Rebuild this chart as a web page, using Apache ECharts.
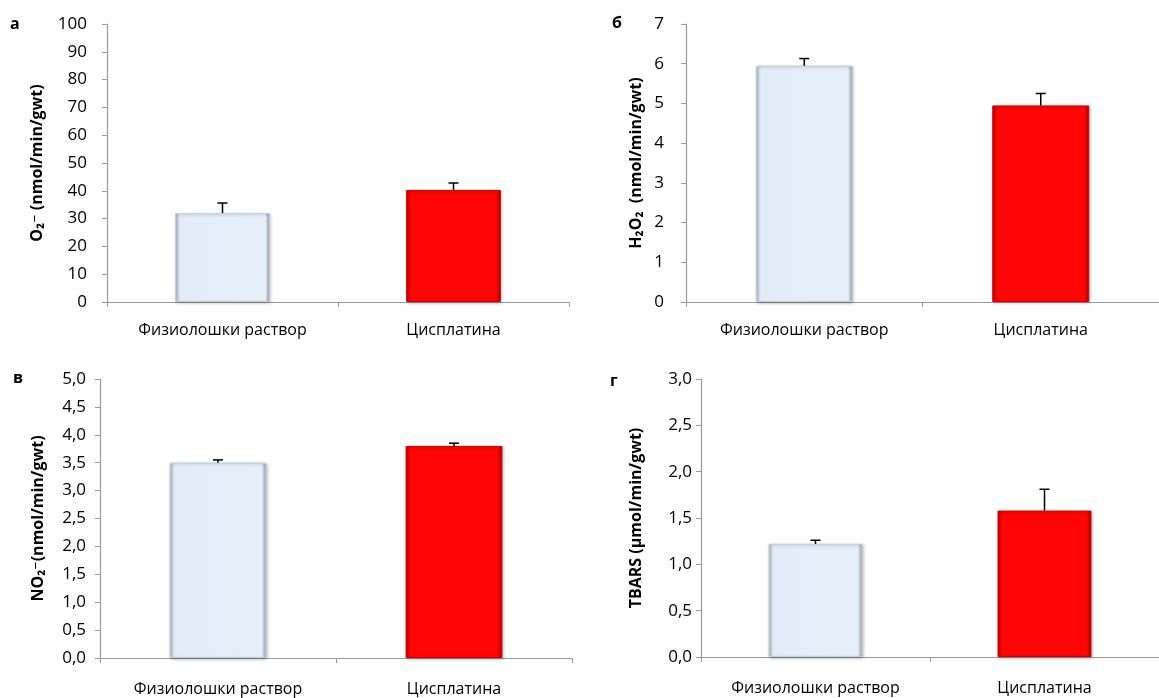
<!DOCTYPE html>
<html>
<head>
<meta charset="utf-8">
<script src="https://cdn.jsdelivr.net/npm/echarts@6/dist/echarts.min.js"></script>
<style>
html,body{margin:0;padding:0;background:#fff;}
#chart{width:1159px;height:698px;}
</style>
</head>
<body>
<div id="chart"></div>
<script>
// ---- data ----
const categories = ['Физиолошки раствор', 'Цисплатина'];
const o2Values = [32, 40.3];
const o2Err = [3.6, 2.5];
const h2o2Values = [5.95, 4.95];
const h2o2Err = [0.18, 0.3];
const no2Values = [3.5, 3.8];
const no2Err = [0.05, 0.05];
const tbarsValues = [1.22, 1.58];
const tbarsErr = [0.04, 0.23];
const panelLetters = ['а', 'б', 'в', 'г'];
const yTitles = ['O₂⁻ (nmol/min/gwt)', 'H₂O₂  (nmol/min/gwt)', 'NO₂⁻(nmol/min/gwt)', 'TBARS (µmol/min/gwt)'];
const yMax = [100, 7, 5, 3];
const yInterval = [10, 1, 0.5, 0.5];
const yDecimals = [0, 0, 1, 1];

const FONT = "'Open Sans', 'DejaVu Sans', sans-serif";
const chart = echarts.init(document.getElementById('chart'));

const grids = [
  {left: 107, top: 24, width: 462, height: 278},
  {left: 686, top: 24, width: 482, height: 278},
  {left: 100, top: 379, width: 472, height: 279},
  {left: 701, top: 379, width: 469, height: 278}
];
const nameGaps = [62, 42, 54, 57];
const labelMargins = [20, 22, 14, 9];
const xLabelMargins = [20, 20, 23, 23];
const letterPos = [[15, 26], [617, 25], [18, 380], [615, 383]];

const allValues = [o2Values, h2o2Values, no2Values, tbarsValues];
const allErr = [o2Err, h2o2Err, no2Err, tbarsErr];

const axisColor = '#9a9a9a';
const blueFill = new echarts.graphic.LinearGradient(0, 0, 1, 0, [
  {offset: 0, color: '#a9b3be'}, {offset: 0.05, color: '#e3edf9'},
  {offset: 0.95, color: '#e6f0fb'}, {offset: 1, color: '#8c97a3'}
]);
const redFill = new echarts.graphic.LinearGradient(0, 0, 1, 0, [
  {offset: 0, color: '#c80000'}, {offset: 0.05, color: '#ff0505'},
  {offset: 0.95, color: '#ff0505'}, {offset: 1, color: '#a80000'}
]);

const xAxes = [], yAxes = [], series = [];
grids.forEach((g, i) => {
  xAxes.push({
    type: 'category', gridIndex: i, data: categories,
    axisLine: {lineStyle: {color: axisColor, width: 1.2}},
    axisTick: {show: true, length: 5, lineStyle: {color: axisColor}},
    axisLabel: {color: '#000', fontFamily: FONT, fontSize: 16, margin: xLabelMargins[i]}
  });
  yAxes.push({
    type: 'value', gridIndex: i, min: 0, max: yMax[i], interval: yInterval[i],
    name: yTitles[i], nameLocation: 'middle', nameGap: nameGaps[i],
    nameTextStyle: {color: '#000', fontFamily: FONT, fontSize: 16, fontWeight: 'bold'},
    axisLine: {show: true, lineStyle: {color: axisColor, width: 1.2}},
    axisTick: {show: true, length: 5, lineStyle: {color: axisColor}},
    splitLine: {show: false},
    axisLabel: {
      color: '#000', fontFamily: FONT, fontSize: 17, margin: labelMargins[i],
      formatter: v => v.toFixed(yDecimals[i]).replace('.', ',')
    }
  });
  series.push({
    type: 'bar', xAxisIndex: i, yAxisIndex: i, barWidth: '41%',
    data: allValues[i].map((v, k) => ({
      value: v,
      itemStyle: {
        color: k === 0 ? blueFill : redFill,
        borderColor: k === 0 ? '#c5cfd9' : '#d00000', borderWidth: 1,
        shadowColor: 'rgba(0,0,0,0.25)', shadowBlur: 3, shadowOffsetX: 1, shadowOffsetY: 1
      }
    }))
  });
  series.push({
    type: 'custom', xAxisIndex: i, yAxisIndex: i, z: 5,
    data: allValues[i].map((v, k) => [k, v, allErr[i][k]]),
    encode: {x: 0, y: 1},
    renderItem: (params, api) => {
      const x = api.value(0), v = api.value(1), e = api.value(2);
      const base = api.coord([x, v]);
      const top = api.coord([x, v + e]);
      return {
        type: 'group',
        children: [
          {type: 'line', shape: {x1: base[0], y1: base[1], x2: top[0], y2: top[1]}, style: {stroke: '#000', lineWidth: 1.5}},
          {type: 'line', shape: {x1: top[0] - 5, y1: top[1], x2: top[0] + 5, y2: top[1]}, style: {stroke: '#000', lineWidth: 1.5}}
        ]
      };
    }
  });
});

const graphics = panelLetters.map((t, i) => ({
  type: 'text', left: letterPos[i][0] - 5, top: letterPos[i][1] - 10,
  style: {text: t, fontFamily: FONT, fontSize: 16, fontWeight: 'bold', fill: '#000'}
}));

chart.setOption({
  animation: false,
  backgroundColor: '#fff',
  grid: grids,
  xAxis: xAxes,
  yAxis: yAxes,
  series: series,
  graphic: graphics
});
</script>
</body>
</html>
